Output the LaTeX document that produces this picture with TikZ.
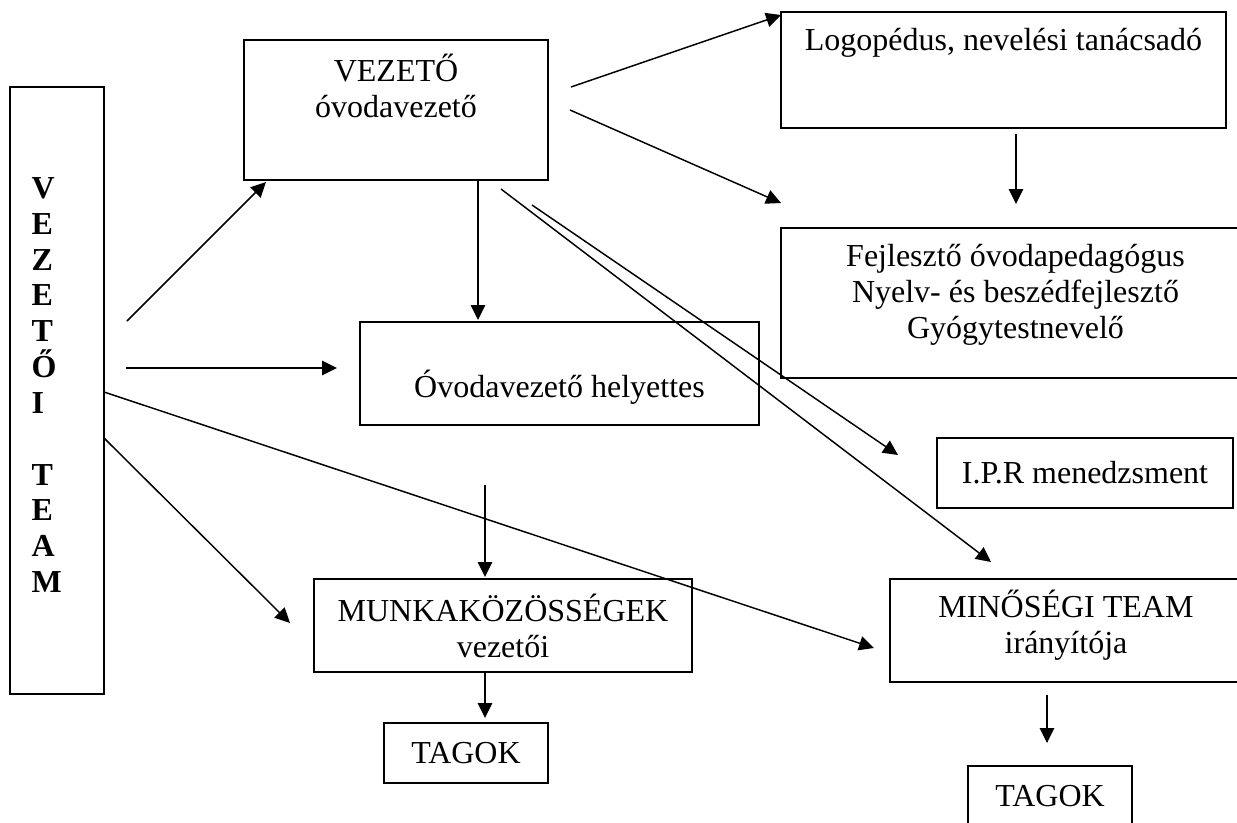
\documentclass[tikz,border=0pt]{standalone}
\usepackage{fontspec}
\setmainfont{Liberation Serif}
\usetikzlibrary{arrows.meta}

\tikzset{
	box/.style={draw, line width=0.6pt, inner sep=0pt, outer sep=0pt, align=center},
	txt/.style={inner sep=0pt, align=center},
	arr/.style={line width=0.55pt, -{Triangle[length=5.6pt,width=5.4pt]}}
}

\begin{document}
\begin{tikzpicture}[x=0.375pt, y=-0.375pt, font=\fontsize{12}{13.5}\selectfont]
	\useasboundingbox (0,0) rectangle (1237,822);
	% vezetoi team
	\node[box, minimum width=35.25pt, minimum height=227.625pt] (team) at (57,390.5) {};
	\node[txt, anchor=west, align=left, font=\fontsize{12}{13.43}\selectfont\bfseries] (teamt) at (31,385) {V\\E\\Z\\E\\T\\Ő\\I\\[13.43pt]T\\E\\A\\M};
	% dobozok
	\node[box, minimum width=114pt, minimum height=52.5pt] (vez) at (396,110) {};
	\node[txt] (vezt) at (396,85.5) {VEZETŐ\\óvodavezető};
	\node[box, minimum width=149.625pt, minimum height=38.625pt] (hely) at (559.5,373.5) {};
	\node[txt] (helyt) at (559.5,387) {Óvodavezető helyettes};
	\node[box, minimum width=166.875pt, minimum height=43.5pt] (logo) at (1003.5,70) {};
	\node[txt] (logot) at (1003.5,43) {Logopédus, nevelési tanácsadó};
	\node[box, minimum width=175.875pt, minimum height=56.25pt] (fejl) at (1015.5,303) {};
	\node[txt] (fejlt) at (1015.5,295) {Fejlesztő óvodapedagógus\\Nyelv- és beszédfejlesztő\\Gyógytestnevelő};
	\node[box, minimum width=111pt, minimum height=26.25pt] (ipr) at (1085,473) {I.P.R menedzsment};
	\node[box, minimum width=141.75pt, minimum height=34.875pt] (munka) at (503,625.5) {MUNKAKÖZÖSSÉGEK\\vezetői};
	\node[box, minimum width=61.5pt, minimum height=22.5pt] (tag1) at (466,753) {TAGOK};
	\node[box, minimum width=132pt, minimum height=38.625pt] (minos) at (1066,630.5) {};
	\node[txt] (minost) at (1066,625.5) {MINŐSÉGI TEAM\\irányítója};
	\node[box, minimum width=61.5pt, minimum height=22.5pt] (tag2) at (1050,796) {TAGOK};
	% nyilak vegpontjai
	\coordinate (tv1) at (127,321);   \coordinate (tv2) at (266,182);
	\coordinate (th1) at (126,368);   \coordinate (th2) at (337,368);
	\coordinate (tq1) at (104,392);   \coordinate (tq2) at (874,648);
	\coordinate (tm1) at (104,438);   \coordinate (tm2) at (290,623);
	\coordinate (vl1) at (571,87);    \coordinate (vl2) at (781,15);
	\coordinate (vf1) at (570,110);   \coordinate (vf2) at (781,203);
	\coordinate (vh1) at (478,180);   \coordinate (vh2) at (478,320);
	\coordinate (vq1) at (501,189);   \coordinate (vq2) at (991,562);
	\coordinate (vi1) at (532,205);   \coordinate (vi2) at (898,455);
	\coordinate (lf1) at (1016,134);  \coordinate (lf2) at (1016,204);
	\coordinate (hm1) at (485,485);   \coordinate (hm2) at (485,577);
	\coordinate (mt1) at (485,672);   \coordinate (mt2) at (485,718);
	\coordinate (qt1) at (1047,695);  \coordinate (qt2) at (1047,743);
	% nyilak
	\draw[arr] (tv1)--(tv2);
	\draw[arr] (th1)--(th2);
	\draw[arr] (tq1)--(tq2);
	\draw[arr] (tm1)--(tm2);
	\draw[arr] (vl1)--(vl2);
	\draw[arr] (vf1)--(vf2);
	\draw[arr] (vh1)--(vh2);
	\draw[arr] (vq1)--(vq2);
	\draw[arr] (vi1)--(vi2);
	\draw[arr] (lf1)--(lf2);
	\draw[arr] (hm1)--(hm2);
	\draw[arr] (mt1)--(mt2);
	\draw[arr] (qt1)--(qt2);
\end{tikzpicture}
\end{document}
